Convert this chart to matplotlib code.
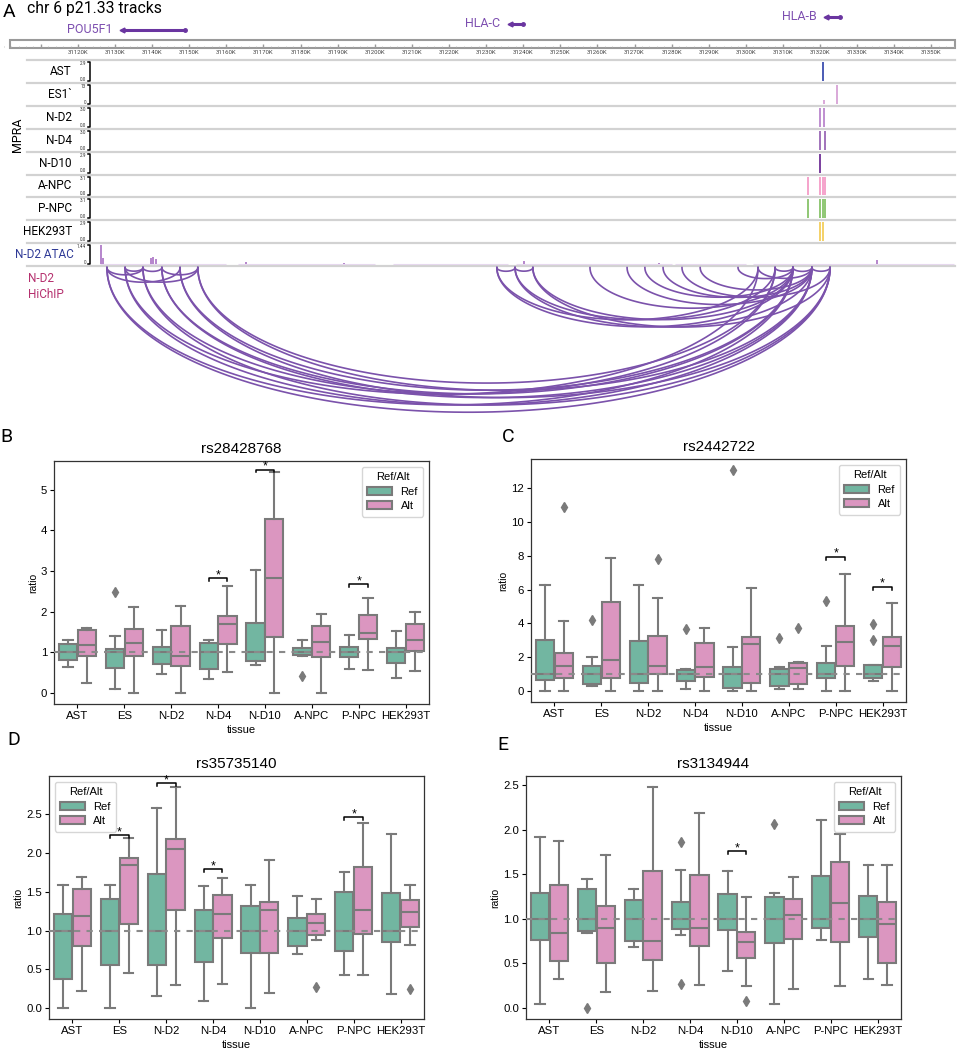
import colorsys
import numpy as np
import matplotlib
import matplotlib.pyplot as plt
import matplotlib.transforms as mtransforms
from matplotlib.colors import to_rgb
from matplotlib.patches import Patch, Rectangle

plt.rcParams['font.family'] = ['Liberation Sans', 'DejaVu Sans']

W, H = 958, 1050

# ---------------- panel A data (hg19, kb) ----------------
view_start, view_end = 31098.98, 31357.19
ruler_labels = list(range(31120, 31351, 10))

gene_names = ['POU5F1', 'HLA-C', 'HLA-B']
gene_start = [31131.9, 31236.5, 31321.6]
gene_end = [31148.8, 31240.0, 31325.5]

mpra_tracks = ['AST', 'ES1`', 'N-D2', 'N-D4', 'N-D10', 'A-NPC', 'P-NPC', 'HEK293T']
mpra_max = [2.9, 13, 3.0, 3.0, 2.9, 3.1, 3.1, 2.9]
mpra_max_text = ['2.9', '13', '3.0', '3.0', '2.9', '3.1', '3.1', '2.9']
mpra_colors = ['#4b5bb4', '#d9a8d8', '#bf8ed0', '#a173bb', '#7a3e9e',
               '#f5a3cb', '#8fc774', '#f4d167']
mpra_pos = [[31320.9], [31321.2, 31324.6], [31320.0, 31321.2], [31320.0, 31321.3],
            [31320.0], [31316.8, 31320.0, 31320.7, 31321.3],
            [31316.8, 31320.0, 31320.7, 31321.3], [31320.0, 31320.7]]
mpra_val = [[2.9], [2.5, 13.0], [3.0, 3.0], [3.0, 3.0], [2.9],
            [3.1, 3.1, 3.1, 3.1], [3.1, 3.1, 3.1, 3.1], [2.9, 2.9]]

atac_max = 1.44
atac_pos = [31126.2, 31126.8, 31139.6, 31140.2, 31141.0, 31165.3, 31191.7,
            31240.2, 31276.6, 31335.4]
atac_val = [1.44, 0.5, 0.45, 0.55, 0.4, 0.18, 0.1, 0.25, 0.1, 0.35]
atac_bg_start = [31126.0, 31163.0, 31205.0, 31238.0, 31281.0, 31302.0]
atac_bg_end = [31160.0, 31200.0, 31236.0, 31280.0, 31300.0, 31356.0]

# HiChIP loops (anchor 1, anchor 2)
loop_a = [31127.8, 31132.7, 31137.5, 31127.8, 31132.7, 31142.6,
          31127.8, 31127.8, 31132.7, 31137.5, 31137.5, 31142.6, 31142.6,
          31147.5, 31147.5, 31152.3, 31152.3, 31132.7,
          31232.9, 31237.8, 31232.9, 31232.9, 31237.8, 31237.8, 31242.6, 31242.6,
          31258.0, 31268.0, 31272.8, 31277.7, 31282.8, 31287.7, 31297.9, 31303.3,
          31307.9, 31312.7, 31317.8]
loop_b = [31137.5, 31137.5, 31142.6, 31147.5, 31152.3, 31152.3,
          31312.7, 31322.7, 31317.8, 31307.9, 31322.7, 31312.7, 31317.8,
          31312.7, 31322.7, 31307.9, 31317.8, 31303.3,
          31237.8, 31242.6, 31303.3, 31312.7, 31307.9, 31317.8, 31312.7, 31322.7,
          31312.7, 31317.8, 31312.7, 31317.8, 31322.7, 31317.8, 31312.7, 31317.8,
          31312.7, 31317.8, 31322.7]

# ---------------- panels B-E data ----------------
tissues = ['AST', 'ES', 'N-D2', 'N-D4', 'N-D10', 'A-NPC', 'P-NPC', 'HEK293T']

# rows: whisker low, q1, median, q3, whisker high
b_ref = [[0.65, 0.81, 1.0, 1.2, 1.3], [0.11, 0.62, 1.0, 1.08, 1.4],
         [0.48, 0.72, 1.0, 1.14, 1.55], [0.34, 0.6, 1.0, 1.22, 1.3],
         [0.69, 0.8, 1.0, 1.73, 3.02], [0.91, 0.93, 1.0, 1.12, 1.3],
         [0.6, 0.89, 1.0, 1.14, 1.43], [0.36, 0.75, 1.0, 1.12, 1.52]]
b_alt = [[0.25, 0.92, 1.17, 1.56, 1.61], [0.0, 0.92, 1.24, 1.57, 2.11],
         [0.0, 0.66, 0.92, 1.65, 2.14], [0.51, 1.2, 1.71, 1.9, 2.64],
         [0.0, 1.38, 2.82, 4.29, 5.44], [0.0, 0.88, 1.25, 1.66, 1.94],
         [0.57, 1.32, 1.47, 1.92, 2.34], [0.55, 1.03, 1.3, 1.7, 2.0]]
b_ref_fliers = [[], [2.49], [], [], [], [0.43], [], []]
b_alt_fliers = [[], [], [], [], [], [], [], []]
b_sig = ['N-D4', 'N-D10', 'P-NPC']
b_sig_y = [2.82, 5.5, 2.68]

c_ref = [[0.0, 0.69, 1.0, 3.03, 6.28], [0.31, 0.41, 1.0, 1.5, 2.05],
         [0.0, 0.51, 1.0, 2.99, 6.28], [0.14, 0.63, 1.0, 1.26, 1.32],
         [0.0, 0.2, 1.0, 1.46, 2.62], [0.14, 0.31, 1.0, 1.32, 1.44],
         [0.0, 0.81, 1.0, 1.69, 2.68], [0.59, 0.81, 1.0, 1.56, 1.56]]
c_alt = [[0.0, 0.81, 1.52, 2.24, 4.17], [0.0, 0.79, 1.85, 5.24, 7.87],
         [0.0, 1.0, 1.5, 3.25, 5.51], [0.0, 0.87, 1.46, 2.85, 3.72],
         [0.0, 0.51, 2.81, 3.19, 6.12], [0.14, 0.45, 1.4, 1.69, 1.7],
         [0.0, 1.52, 2.91, 3.88, 6.93], [0.0, 1.44, 2.68, 3.23, 5.2]]
c_ref_fliers = [[], [4.23], [], [3.66], [13.05], [3.15], [5.33], [3.96, 3.03]]
c_alt_fliers = [[10.85], [], [7.78], [], [], [3.72], [], []]
c_sig = ['P-NPC', 'HEK293T']
c_sig_y = [7.93, 6.16]

d_ref = [[0.0, 0.38, 1.0, 1.21, 1.585], [0.0, 0.55, 1.0, 1.41, 1.59],
         [0.16, 0.55, 1.0, 1.73, 2.58], [0.09, 0.6, 1.0, 1.26, 1.57],
         [0.0, 0.71, 1.0, 1.31, 1.585], [0.7, 0.8, 1.0, 1.16, 1.44],
         [0.43, 0.73, 1.0, 1.5, 1.75], [0.18, 0.85, 1.0, 1.49, 2.25]]
d_alt = [[0.22, 0.8, 1.19, 1.54, 1.69], [0.45, 1.08, 1.84, 1.94, 2.19],
         [0.3, 1.26, 2.05, 2.18, 2.85], [0.31, 0.9, 1.21, 1.46, 1.68],
         [0.19, 0.71, 1.26, 1.37, 1.91], [0.88, 0.94, 1.1, 1.21, 1.41],
         [0.43, 0.96, 1.26, 1.82, 2.39], [0.81, 1.05, 1.24, 1.39, 1.59]]
d_ref_fliers = [[], [], [], [], [], [], [], []]
d_alt_fliers = [[], [], [], [], [], [0.27], [], [0.25]]
d_sig = ['ES', 'N-D2', 'N-D4', 'P-NPC']
d_sig_y = [2.23, 2.9, 1.79, 2.46]

e_ref = [[0.045, 0.765, 1.0, 1.285, 1.915], [0.836, 0.86, 1.0, 1.34, 1.447],
         [0.686, 0.75, 1.0, 1.214, 1.334], [0.82, 0.888, 1.0, 1.19, 1.544],
         [0.416, 0.87, 1.0, 1.278, 1.533], [0.037, 0.73, 1.0, 1.25, 1.285],
         [0.757, 0.896, 1.0, 1.48, 2.106], [0.319, 0.79, 1.0, 1.256, 1.6]]
e_alt = [[0.326, 0.53, 0.843, 1.375, 1.878], [0.176, 0.5, 0.9, 1.14, 1.72],
         [0.184, 0.54, 0.75, 1.54, 2.48], [0.259, 0.697, 0.892, 1.495, 2.185],
         [0.244, 0.555, 0.742, 0.847, 1.24], [0.21, 0.772, 1.046, 1.226, 1.466],
         [0.24, 0.738, 1.177, 1.638, 1.953], [0.259, 0.502, 0.945, 1.19, 1.61]]
e_ref_fliers = [[], [0.0], [], [1.863, 0.262], [], [2.07], [], []]
e_alt_fliers = [[], [], [], [], [0.071], [], [], []]
e_sig = ['N-D10']
e_sig_y = [1.76]


def desaturate(color, prop=0.75):
    h, l, s = colorsys.rgb_to_hls(*to_rgb(color))
    return colorsys.hls_to_rgb(h, l, s * prop)


ref_color = desaturate('#66c2a5')
alt_color = desaturate('#e78ac3')
line_gray = '#7a7a7a'
arc_color = '#7b52ab'


def px_rect(x0, y0, x1, y1):
    return [x0 / W, 1 - y1 / H, (x1 - x0) / W, (y1 - y0) / H]


fig = plt.figure(figsize=(W / 100, H / 100), dpi=100)

# ================= Panel A: browser tracks =================
ax = fig.add_axes([0, 1 - 420 / H, 1, 420 / H])
ax.set_xlim(view_start, view_end)
ax.set_ylim(420, 0)
ax.axis('off')
tr = mtransforms.blended_transform_factory(ax.transAxes, ax.transData)
rob = 'Roboto'

fig.text(3 / W, 1 - 12 / H, 'A', fontsize=14, family=rob, va='center')
ax.text(27 / W, 8, 'chr 6 p21.33 tracks', transform=tr, fontsize=11.3, family=rob,
        va='center')

# genes
gene_y = [30, 24, 17]
for name, gs, ge, gy in zip(gene_names, gene_start, gene_end, gene_y):
    ax.plot([gs, ge], [gy, gy], color='#6a35a0', lw=2.2, solid_capstyle='butt')
    ax.plot([gs], [gy], marker='<', color='#6a35a0', ms=3.5)
    ax.plot([ge], [gy], marker='o', color='#6a35a0', ms=2.5)
    ax.text(gs - 2.6, gy - 0.5, name, fontsize=9, family=rob, color='#7d4fb0',
            ha='right', va='center')

# ruler
ax.add_patch(Rectangle((10 / W, 40), 945 / W, 8, transform=tr, fill=False,
                       edgecolor='#9a9a9a', lw=1.5))
minor = np.arange(31100, 31357, 2)
ax.vlines(minor, 45.5, 47, color='#b5b5b5', lw=0.5)
ax.vlines(np.arange(31110, 31357, 10), 43.5, 47, color='#9a9a9a', lw=1.0)
for k in ruler_labels:
    ax.text(k, 53, f'{k}K', fontsize=4.3, family=rob, color='#444444',
            ha='center', va='center')

# track separators
line_y = [60 + 22.9 * i for i in range(10)]
for y in line_y:
    ax.plot([27 / W, 955 / W], [y, y], transform=tr, color='#d2d2d2', lw=1.6)

ax.text(17 / W, 135, 'MPRA', transform=tr, rotation=90, fontsize=9, family=rob,
        ha='center', va='center')


def scale_bracket(top, bottom, label_top, label_bot):
    ax.plot([88 / W, 90 / W, 90 / W, 88 / W], [top + 2, top + 2, bottom - 2, bottom - 2],
            transform=tr, color='black', lw=1.1)
    ax.text(86 / W, top + 3.5, label_top, transform=tr, fontsize=3.3, family=rob,
            ha='right', va='center', color='#333333')
    ax.text(86 / W, bottom - 3.5, label_bot, transform=tr, fontsize=3.3, family=rob,
            ha='right', va='center', color='#333333')


for i, name in enumerate(mpra_tracks):
    top, bottom = line_y[i], line_y[i + 1]
    ax.text(72 / W, (top + bottom) / 2, name, transform=tr, fontsize=8.5, family=rob,
            ha='right', va='center')
    scale_bracket(top, bottom, mpra_max_text[i], '0' if name == 'ES1`' else '0.0')
    full = bottom - top - 4
    for p, v in zip(mpra_pos[i], mpra_val[i]):
        ax.vlines(p, bottom - 2, bottom - 2 - v / mpra_max[i] * full,
                  color=mpra_colors[i], lw=1.4)

# ATAC track
a_top, a_bot = line_y[8], line_y[9]
ax.text(74 / W, (a_top + a_bot) / 2, 'N-D2 ATAC', transform=tr, fontsize=8.5,
        family=rob, color='#2f3a96', ha='right', va='center')
scale_bracket(a_top, a_bot, '1.44', '0')
for s, e in zip(atac_bg_start, atac_bg_end):
    ax.plot([s, e], [a_bot - 2.6, a_bot - 2.6], color='#e6d8ee', lw=0.8,
            solid_capstyle='butt')
ax.vlines(atac_pos, a_bot - 2,
          [a_bot - 2 - v / atac_max * (a_bot - a_top - 4) for v in atac_val],
          color='#b07cc8', lw=1.3)

# HiChIP
ax.text(28 / W, 278, 'N-D2', transform=tr, fontsize=8.5, family=rob, color='#b5306e',
        va='center')
ax.text(28 / W, 295, 'HiChIP', transform=tr, fontsize=8.5, family=rob, color='#b5306e',
        va='center')
base = a_bot + 1.5
px_per_kb = W / (view_end - view_start)
t = np.linspace(0, np.pi, 120)
for a, b in zip(loop_a, loop_b):
    c, r = (a + b) / 2, (b - a) / 2
    depth = 0.2 * (b - a) * px_per_kb
    ax.plot(c + r * np.cos(t), base + depth * np.sin(t), color=arc_color, lw=1.2)

# ================= Panels B-E: boxplots =================


def draw_panel(rect, letter, letter_xy, title, ref, alt, ref_fl, alt_fl,
               sig_t, sig_y, ylim, yticks, ytl, legend_loc):
    bx_ax = fig.add_axes(px_rect(*rect))
    pos = np.arange(len(tissues))
    for stats, fl, off, col in ((ref, ref_fl, -0.2, ref_color),
                                (alt, alt_fl, 0.2, alt_color)):
        bstats = [dict(whislo=s[0], q1=s[1], med=s[2], q3=s[3], whishi=s[4],
                       fliers=f) for s, f in zip(stats, fl)]
        bx_ax.bxp(bstats, positions=pos + off, widths=0.39, capwidths=0.195,
                  patch_artist=True, manage_ticks=False,
                  boxprops=dict(facecolor=col, edgecolor=line_gray, linewidth=1.5),
                  whiskerprops=dict(color=line_gray, linewidth=1.5),
                  capprops=dict(color=line_gray, linewidth=1.5),
                  medianprops=dict(color=line_gray, linewidth=1.5),
                  flierprops=dict(marker='d', markerfacecolor=line_gray,
                                  markeredgecolor=line_gray, markersize=5))
    bx_ax.axhline(1, color='#8a8a8a', lw=1.5, ls=(0, (3, 3)), zorder=5)
    yr = ylim[1] - ylim[0]
    for tname, h in zip(sig_t, sig_y):
        i = tissues.index(tname)
        d = 0.012 * yr
        bx_ax.plot([i - 0.2, i - 0.2, i + 0.2, i + 0.2], [h - d, h, h, h - d],
                   color='black', lw=1.1)
        bx_ax.text(i, h - 0.012 * yr, '*', ha='center', va='bottom', fontsize=9)
    bx_ax.set_xlim(-0.5, 7.5)
    bx_ax.set_ylim(*ylim)
    bx_ax.set_xticks(pos)
    bx_ax.set_xticklabels(tissues, fontsize=8.2)
    bx_ax.set_yticks(yticks)
    bx_ax.set_yticklabels(ytl, fontsize=8.2)
    bx_ax.tick_params(length=3, width=0.8, pad=2)
    for sp in bx_ax.spines.values():
        sp.set_color('#333333')
        sp.set_linewidth(0.9)
    bx_ax.set_xlabel('tissue', fontsize=8, labelpad=3)
    bx_ax.set_ylabel('ratio', fontsize=7.5, labelpad=2)
    bx_ax.set_title(title, fontsize=11, pad=6)
    handles = [Patch(facecolor=ref_color, edgecolor=line_gray, lw=1.5, label='Ref'),
               Patch(facecolor=alt_color, edgecolor=line_gray, lw=1.5, label='Alt')]
    bx_ax.legend(handles=handles, title='Ref/Alt', loc=legend_loc, fontsize=8,
                 title_fontsize=8, handlelength=2.2, borderpad=0.5,
                 labelspacing=0.4)
    fig.text(letter_xy[0] / W, 1 - letter_xy[1] / H, letter, fontsize=14,
             family=rob, va='center')
    return bx_ax


draw_panel((54, 461, 429, 704), 'B', (0, 437), 'rs28428768', b_ref, b_alt,
           b_ref_fliers, b_alt_fliers, b_sig, b_sig_y, (-0.27, 5.71),
           [0, 1, 2, 3, 4, 5], ['0', '1', '2', '3', '4', '5'], 'upper right')
draw_panel((531, 459, 906, 702), 'C', (502, 437), 'rs2442722', c_ref, c_alt,
           c_ref_fliers, c_alt_fliers, c_sig, c_sig_y, (-0.63, 13.7),
           [0, 2, 4, 6, 8, 10, 12], ['0', '2', '4', '6', '8', '10', '12'],
           'upper right')
draw_panel((49, 776, 424, 1019), 'D', (7, 740), 'rs35735140', d_ref, d_alt,
           d_ref_fliers, d_alt_fliers, d_sig, d_sig_y, (-0.142, 2.994),
           [0, 0.5, 1.0, 1.5, 2.0, 2.5], ['0.0', '0.5', '1.0', '1.5', '2.0', '2.5'],
           'upper left')
draw_panel((526, 776, 901, 1019), 'E', (497, 745), 'rs3134944', e_ref, e_alt,
           e_ref_fliers, e_alt_fliers, e_sig, e_sig_y, (-0.127, 2.605),
           [0, 0.5, 1.0, 1.5, 2.0, 2.5], ['0.0', '0.5', '1.0', '1.5', '2.0', '2.5'],
           'upper right')

fig.savefig('out.png', dpi=100)
